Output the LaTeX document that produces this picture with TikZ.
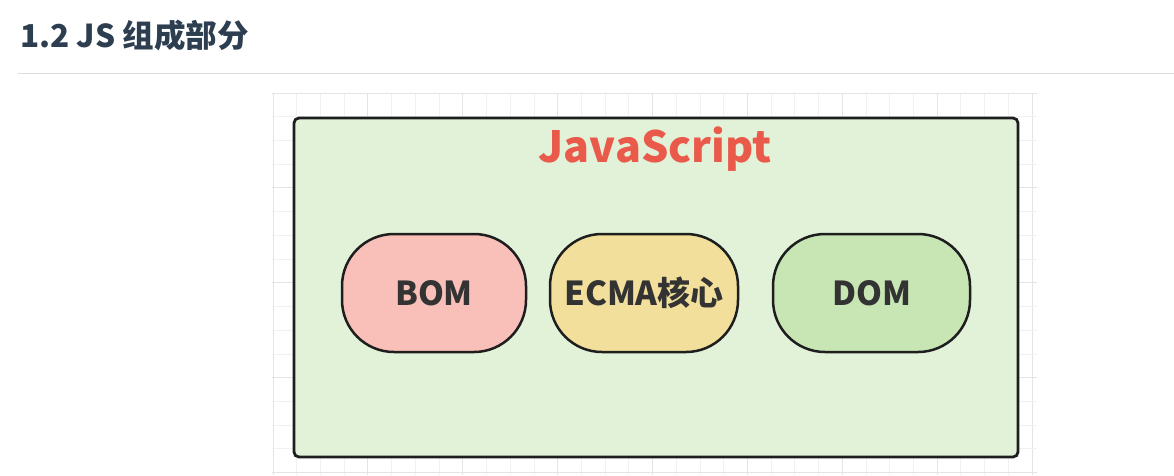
\documentclass[tikz,border=0pt]{standalone}
\usepackage{fontspec}
\newfontfamily\cjk{Noto Sans CJK SC}
\definecolor{titlecol}{HTML}{2C3E50}
\definecolor{rulecol}{HTML}{DCDCDC}
\definecolor{gridminor}{HTML}{F1F1F1}
\definecolor{gridmajor}{HTML}{E4E4E4}
\definecolor{outerfill}{HTML}{E2F2D9}
\definecolor{jsred}{HTML}{EA5A4A}
\definecolor{bomfill}{HTML}{F8C0B8}
\definecolor{ecmafill}{HTML}{F2DF9C}
\definecolor{domfill}{HTML}{C7E6B4}
\definecolor{textdark}{HTML}{333333}
\definecolor{strokedark}{HTML}{1E1E1E}
\tikzset{
  pill/.style={draw=strokedark, line width=2.5pt, rounded corners=52pt,
    minimum height=118pt, inner sep=0pt, font=\cjk\bfseries\fontsize{33}{36}\selectfont,
    text=textdark},
  outerbox/.style={draw=strokedark, line width=2.8pt, rounded corners=5pt, fill=outerfill},
}
\begin{document}
\begin{tikzpicture}[x=1pt,y=-1pt]
\useasboundingbox (0,0) rectangle (1174,475);
\fill[white] (0,0) rectangle (1174,475);
% title
\node[anchor=base west, inner sep=0pt, text=titlecol, font=\cjk\bfseries\fontsize{31.5}{34}\selectfont] (title) at (20,47) {1.2 JS 组成部分};
\draw[rulecol, line width=1pt] (18,73) -- (1174,73);
% grid
\foreach \i in {0,...,32} {
  \pgfmathsetmacro{\gx}{273+23.72*\i}
  \pgfmathtruncatemacro{\m}{mod(\i,4)}
  \ifnum\m=0
    \draw[gridmajor, line width=0.8pt] (\gx,93) -- (\gx,475);
  \else
    \draw[gridminor, line width=0.8pt] (\gx,93) -- (\gx,475);
  \fi
}
\foreach \i in {0,...,16} {
  \pgfmathsetmacro{\gy}{93+23.72*\i}
  \pgfmathtruncatemacro{\m}{mod(\i,4)}
  \ifnum\m=0
    \draw[gridmajor, line width=0.8pt] (272,\gy) -- (1037,\gy);
  \else
    \draw[gridminor, line width=0.8pt] (272,\gy) -- (1037,\gy);
  \fi
}
% outer box
\draw[outerbox] (294,118) rectangle (1018,457);
\node[text=jsred, font=\cjk\bfseries\fontsize{43}{47}\selectfont, inner sep=0pt] (js) at (655,149) {JavaScript};
% pills
\node[pill, fill=bomfill, minimum width=184pt] (bom) at (434,293) {BOM};
\node[pill, fill=ecmafill, minimum width=188pt] (ecma) at (644,293) {ECMA核心};
\node[pill, fill=domfill, minimum width=197pt] (dom) at (871.5,293) {DOM};
\end{tikzpicture}
\end{document}
